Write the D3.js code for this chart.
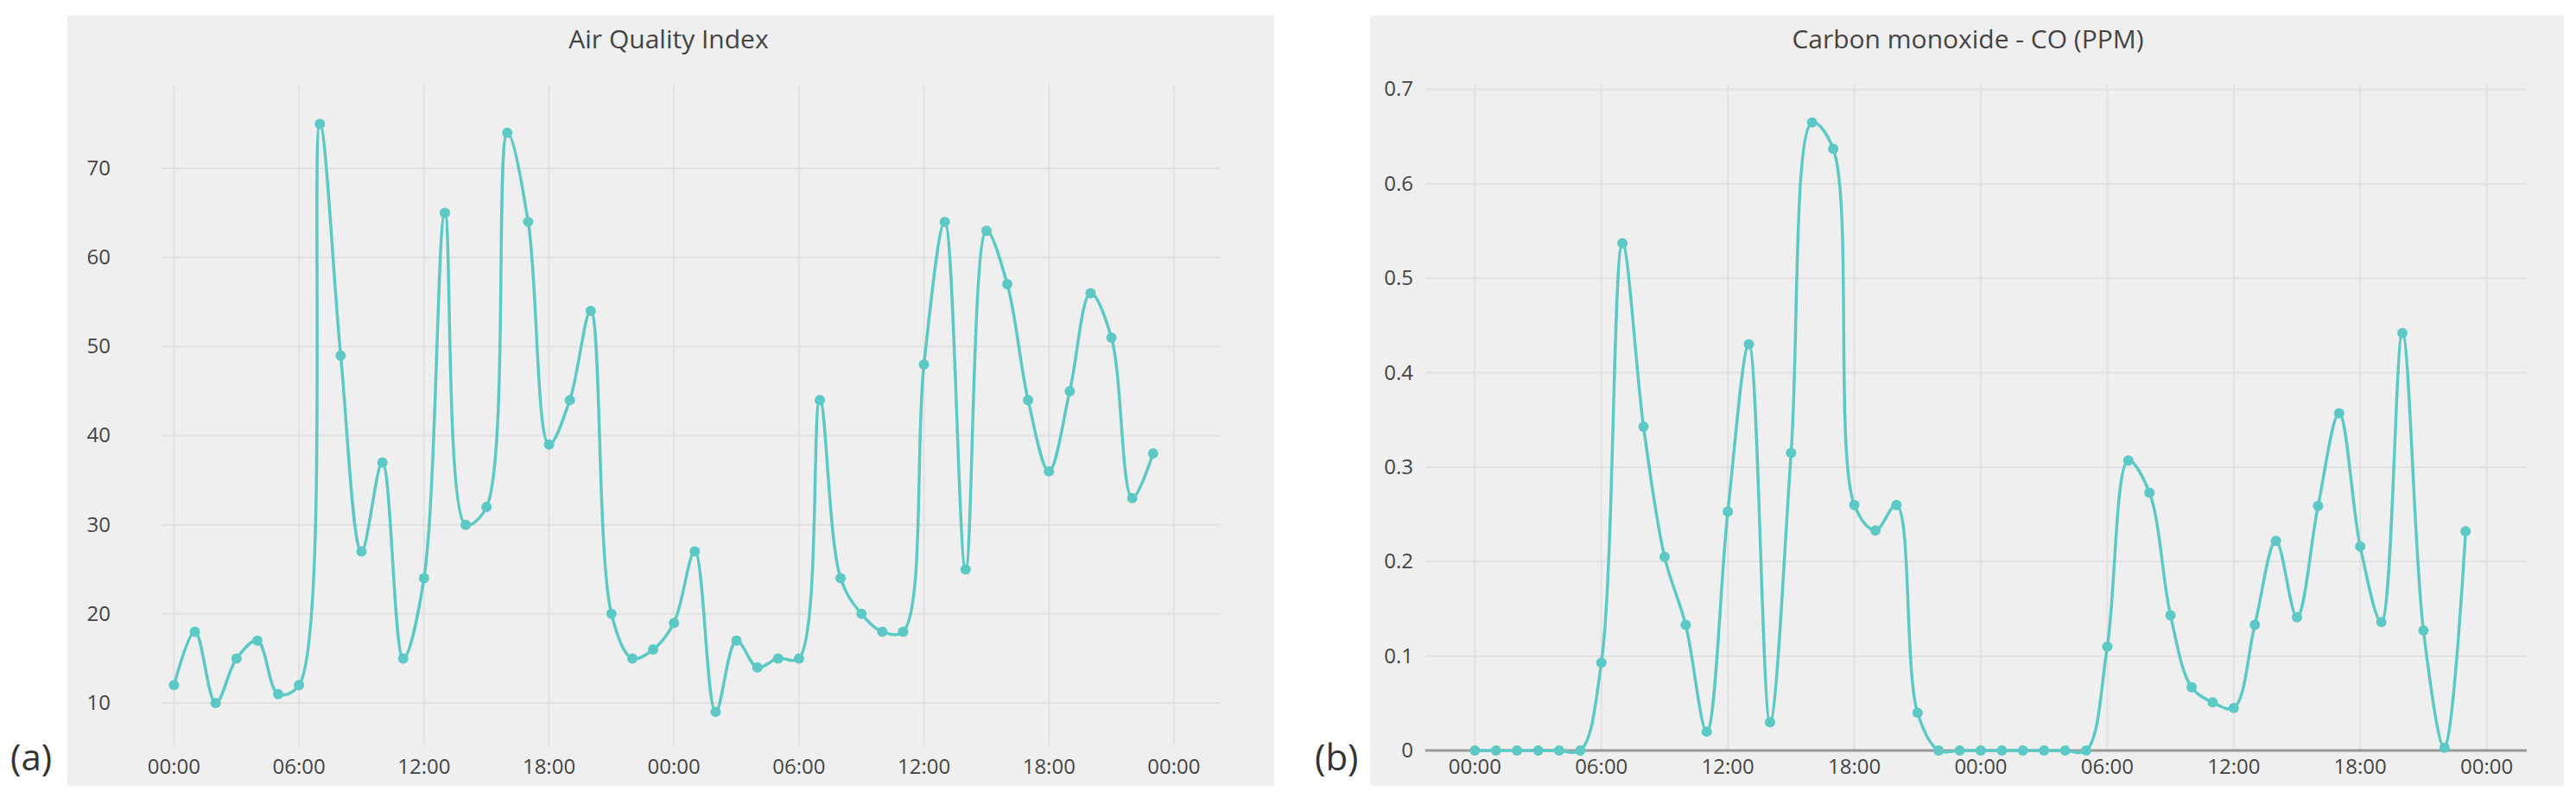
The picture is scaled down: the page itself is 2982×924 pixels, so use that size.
<!DOCTYPE html>
<html><head><meta charset="utf-8">
<script src="https://cdn.jsdelivr.net/npm/d3@7"></script>
<style>body{margin:0;background:#fff;} text{font-family:"Open Sans",sans-serif;}</style>
</head><body><div id="container"></div>
<script>
var hours = d3.range(48);
var aqiValues = [12,18,10,15,17,11,12,75,49,27,37,15,24,65,30,32,74,64,39,44,54,20,15,16,
                 19,27,9,17,14,15,15,44,24,20,18,18,48,64,25,63,57,44,36,45,56,51,33,38];
var coValues = [0,0,0,0,0,0,0.093,0.537,0.343,0.205,0.133,0.02,0.253,0.43,0.03,0.315,0.665,0.637,0.26,0.233,0.26,0.04,0,0,
                0,0,0,0,0,0,0.11,0.307,0.273,0.143,0.067,0.051,0.045,0.133,0.222,0.141,0.259,0.357,0.216,0.136,0.442,0.127,0.003,0.232];
var aqiTicks = [10,20,30,40,50,60,70];
var coTicks = [0,0.1,0.2,0.3,0.4,0.5,0.6,0.7];
var start = new Date(2020, 0, 1, 0, 0);
var hourDate = function (h) { return new Date(start.getTime() + h * 3600000); };

var svg = d3.select("#container").append("svg")
    .attr("width", 2982).attr("height", 924);

var drawPanel = function (opt) {
    var g = svg.append("g");
    g.append("rect").attr("x", opt.bg[0]).attr("y", 18)
        .attr("width", opt.bg[1] - opt.bg[0]).attr("height", 892)
        .attr("fill", "#efefef");
    var x = d3.scaleTime().domain([hourDate(opt.hdom[0]), hourDate(opt.hdom[1])]).range(opt.xr);
    var y = d3.scaleLinear().domain(opt.ydom).range([opt.yr[0], opt.yr[1]]);

    var xTicks = d3.range(0, 49, 6).map(hourDate);
    g.selectAll(".vg").data(xTicks).enter().append("line")
        .attr("x1", d => x(d)).attr("x2", d => x(d))
        .attr("y1", opt.yr[1]).attr("y2", opt.yr[0])
        .attr("stroke", "#e1e1e1").attr("stroke-width", 2);
    g.selectAll(".hg").data(opt.ticks).enter().append("line")
        .attr("x1", opt.xr[0]).attr("x2", opt.xr[1])
        .attr("y1", d => y(d)).attr("y2", d => y(d))
        .attr("stroke", d => d === 0 ? "#9a9a9a" : "#e1e1e1")
        .attr("stroke-width", d => d === 0 ? 3 : 2);

    g.selectAll(".xl").data(xTicks).enter().append("text")
        .attr("x", d => x(d)).attr("y", 896)
        .attr("text-anchor", "middle").attr("font-size", 24).attr("fill", "#444")
        .text(d3.timeFormat("%H:%M"));
    g.selectAll(".yl").data(opt.ticks).enter().append("text")
        .attr("x", opt.labelX).attr("y", d => y(d) + 8)
        .attr("text-anchor", "end").attr("font-size", 24).attr("fill", "#444")
        .text(d => String(d).replace(/^0\./, "0."));

    var line = d3.line()
        .x((d, i) => x(hourDate(hours[i])))
        .y(d => y(d))
        .curve(d3.curveCatmullRom.alpha(0.5));
    g.append("path").datum(opt.values).attr("d", line)
        .attr("fill", "none").attr("stroke", "#5cc9c4").attr("stroke-width", 3.5);
    g.selectAll(".pt").data(opt.values).enter().append("circle")
        .attr("cx", (d, i) => x(hourDate(hours[i]))).attr("cy", d => y(d))
        .attr("r", 6).attr("fill", "#5cc9c4");

    g.append("text").attr("x", opt.titleX).attr("y", 56)
        .attr("text-anchor", "middle").attr("font-size", 30).attr("fill", "#444")
        .text(opt.title);
    g.append("text").attr("x", opt.tagX).attr("y", 892)
        .attr("font-family", "Liberation Sans, Arial, sans-serif")
        .attr("font-size", 42).attr("fill", "#333").text(opt.tag);
};

drawPanel({bg: [78, 1475], hdom: [-0.6, 50.2], xr: [187, 1412], ydom: [5.25, 79.4], yr: [863, 98],
    ticks: aqiTicks, values: aqiValues, labelX: 128, title: "Air Quality Index", titleX: 774, tag: "(a)", tagX: 12});
drawPanel({bg: [1586, 2968], hdom: [-2.35, 49.9], xr: [1650, 2925], ydom: [0, 0.705], yr: [869, 98],
    ticks: coTicks, values: coValues, labelX: 1636, title: "Carbon monoxide - CO (PPM)", titleX: 2278, tag: "(b)", tagX: 1522});
</script>
</body></html>
